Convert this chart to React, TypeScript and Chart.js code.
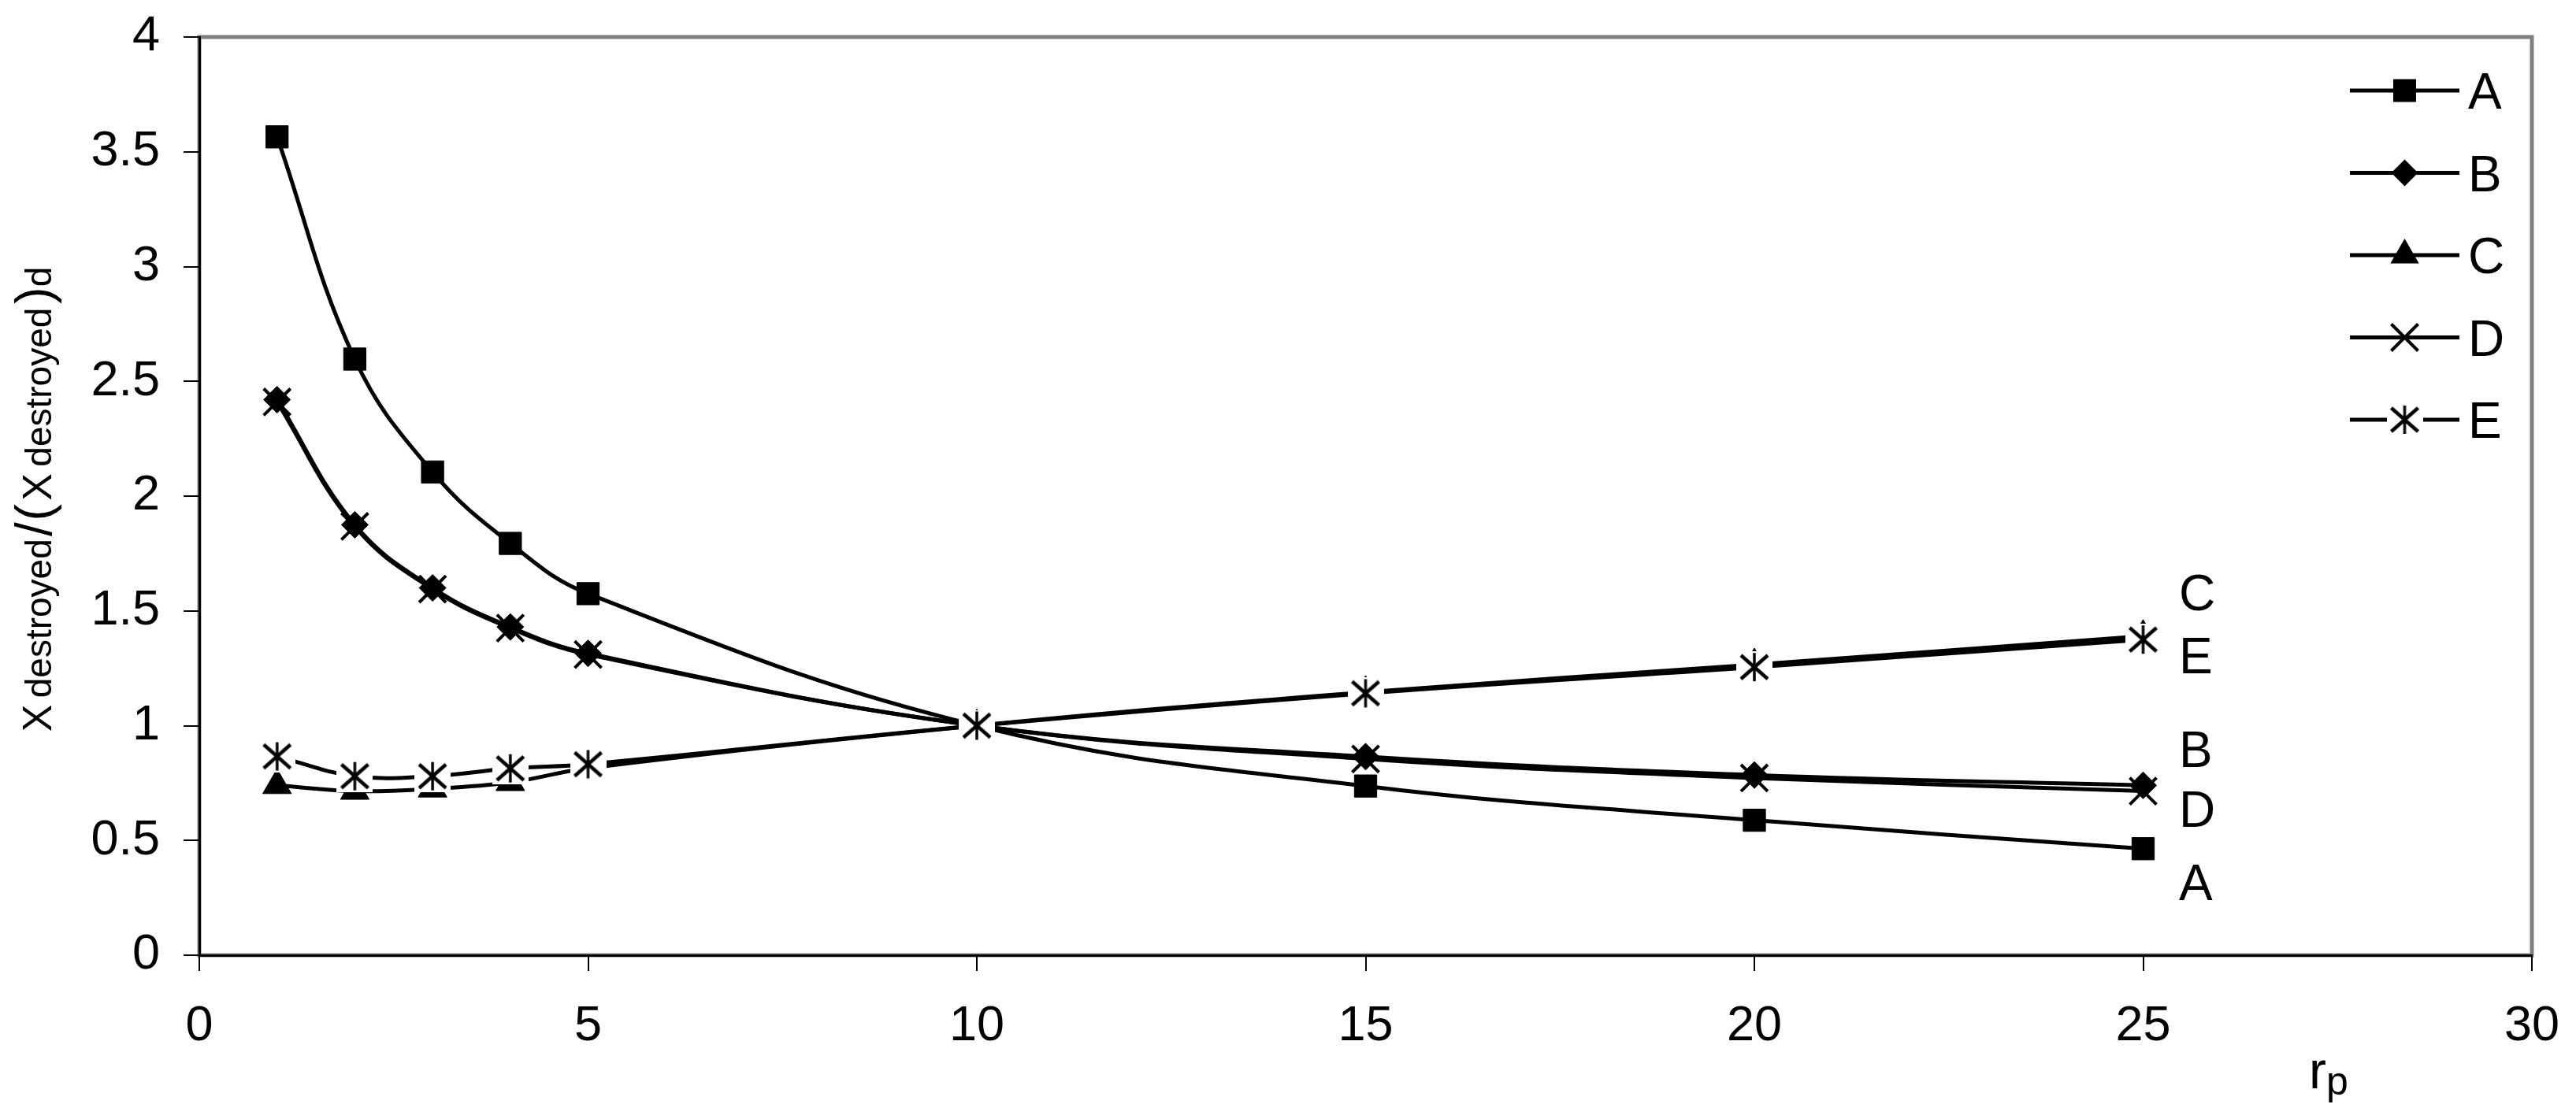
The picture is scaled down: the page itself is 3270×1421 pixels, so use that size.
import React, { useEffect, useRef } from 'react';
import { Chart, registerables } from 'chart.js';

Chart.register(...registerables);

// ---- data ----
const rpValues = [1, 2, 3, 4, 5, 10, 15, 20, 25];
const seriesA = [3.565, 2.597, 2.105, 1.794, 1.575, 1.0, 0.737, 0.588, 0.464];
const seriesB = [2.42, 1.875, 1.6, 1.43, 1.315, 1.0, 0.865, 0.785, 0.74];
const seriesC = [0.74, 0.715, 0.725, 0.753, 0.815, 1.0, 1.146, 1.266, 1.39];
const seriesD = [2.41, 1.868, 1.595, 1.425, 1.31, 1.0, 0.855, 0.772, 0.715];
const seriesE = [0.866, 0.78, 0.78, 0.814, 0.832, 1.0, 1.141, 1.255, 1.375];
const seriesNames = ['A', 'B', 'C', 'D', 'E'];
const xTickRange = [0, 30, 5];
const yTickRange = [0, 4, 0.5];
// curve-end annotations (text, anchor in data units)
const endLabelText = ['C', 'E', 'B', 'D', 'A'];
const endLabelY = [1.581, 1.307, 0.899, 0.638, 0.319];
const endLabelX = 25.46;
const yTitleParts = ['X', ' ', 'destroyed', ' ', '/', ' ', '(', ' ', 'X', ' ', 'destroyed', ' ', ')', 'd'];
const yTitleSizes = [52, 30, 46, 12, 64, 6, 64, 16, 52, 30, 46, 18, 64, 46];

const FONT = '"Liberation Sans", Arial, sans-serif';
const W = 3270;
const H = 1421;

function makeAsterisk(): HTMLCanvasElement {
  const c = document.createElement('canvas');
  c.width = 46;
  c.height = 40;
  const g = c.getContext('2d')!;
  g.fillStyle = '#ffffff';
  g.fillRect(0, 0, 46, 40);
  g.strokeStyle = '#000000';
  g.lineWidth = 4.5;
  const cx = 23, cy = 20;
  g.beginPath();
  g.moveTo(cx - 17, cy - 15); g.lineTo(cx + 17, cy + 15);
  g.moveTo(cx + 17, cy - 15); g.lineTo(cx - 17, cy + 15);
  g.stroke();
  g.lineWidth = 3.5;
  g.beginPath();
  g.moveTo(cx, cy - 18); g.lineTo(cx, cy + 18);
  g.stroke();
  return c;
}

function drawMarker(ctx: CanvasRenderingContext2D, style: any, x: number, y: number) {
  ctx.save();
  ctx.fillStyle = '#000';
  ctx.strokeStyle = '#000';
  if (style === 'rect') {
    ctx.fillRect(x - 14.5, y - 14.5, 29, 29);
  } else if (style === 'rectRot') {
    const r = 17;
    ctx.beginPath();
    ctx.moveTo(x - r, y); ctx.lineTo(x, y - r); ctx.lineTo(x + r, y); ctx.lineTo(x, y + r);
    ctx.closePath(); ctx.fill();
  } else if (style === 'triangle') {
    const r = 21;
    ctx.beginPath();
    ctx.moveTo(x, y - r);
    ctx.lineTo(x + r * Math.sin(2 * Math.PI / 3), y - r * Math.cos(2 * Math.PI / 3));
    ctx.lineTo(x + r * Math.sin(4 * Math.PI / 3), y - r * Math.cos(4 * Math.PI / 3));
    ctx.closePath(); ctx.fill();
  } else if (style === 'crossRot') {
    const d = 17;
    ctx.lineWidth = 4;
    ctx.beginPath();
    ctx.moveTo(x - d, y - d); ctx.lineTo(x + d, y + d);
    ctx.moveTo(x + d, y - d); ctx.lineTo(x - d, y + d);
    ctx.stroke();
  } else if (style instanceof HTMLCanvasElement) {
    ctx.drawImage(style, x - style.width / 2, y - style.height / 2);
  }
  ctx.restore();
}

export default function App() {
  const ref = useRef<HTMLCanvasElement>(null);

  useEffect(() => {
    const canvas = ref.current!;
    const asterisk = makeAsterisk();
    const styles: any[] = ['rect', 'rectRot', 'triangle', 'crossRot', asterisk];
    const radii = [20, 17, 21, 24, 20];
    const borderW = [1, 1, 1, 4, 1];
    const allSeries = [seriesA, seriesB, seriesC, seriesD, seriesE];

    const decor = {
      id: 'decor',
      beforeDraw(chart: any) {
        const { ctx, chartArea: a } = chart;
        ctx.save();
        ctx.fillStyle = '#fff';
        ctx.fillRect(0, 0, W, H);
        ctx.strokeStyle = '#808080';
        ctx.lineWidth = 5;
        ctx.strokeRect(a.left, a.top, a.right - a.left, a.bottom - a.top);
        ctx.restore();
      },
      afterDraw(chart: any) {
        const { ctx, scales } = chart;
        ctx.save();
        ctx.fillStyle = '#000';
        ctx.textBaseline = 'alphabetic';
        ctx.textAlign = 'left';
        // legend
        const legTop = 115, legStep = 104.5;
        seriesNames.forEach((name, i) => {
          const y = legTop + i * legStep;
          ctx.strokeStyle = '#000';
          ctx.lineWidth = 5;
          ctx.beginPath();
          ctx.moveTo(2983, y); ctx.lineTo(3122, y);
          ctx.stroke();
          drawMarker(ctx, styles[i], 3052.5, y);
          ctx.fillStyle = '#000';
          ctx.font = `64px ${FONT}`;
          ctx.fillText(name, 3133, y + 23);
        });
        // curve-end labels
        ctx.font = `64px ${FONT}`;
        endLabelText.forEach((t, i) => {
          const px = scales.x.getPixelForValue(endLabelX);
          const py = scales.y.getPixelForValue(endLabelY[i]);
          ctx.fillText(t, px, py + 23);
        });
        // y axis title (rotated, mixed sizes)
        let total = 0;
        const widths: number[] = [];
        yTitleParts.forEach((p, i) => {
          ctx.font = `${yTitleSizes[i]}px ${FONT}`;
          const w = ctx.measureText(p).width;
          widths.push(w);
          total += w;
        });
        const cy = 634;
        ctx.translate(65, cy + total / 2);
        ctx.rotate(-Math.PI / 2);
        let x = 0;
        yTitleParts.forEach((p, i) => {
          ctx.font = `${yTitleSizes[i]}px ${FONT}`;
          ctx.fillText(p, x, 0);
          x += widths[i];
        });
        ctx.setTransform(1, 0, 0, 1, 0, 0);
        // x axis title r_p
        ctx.font = `66px ${FONT}`;
        ctx.fillText('r', 2931, 1382);
        const rw = ctx.measureText('r').width;
        ctx.font = `50px ${FONT}`;
        ctx.fillText('p', 2931 + rw, 1390);
        ctx.restore();
      },
    };

    const zeroPad = (s: any) => {
      s.paddingTop = 0;
      s.paddingBottom = 0;
      s.paddingLeft = 0;
      s.paddingRight = 0;
    };

    const chart = new Chart(canvas, {
      type: 'line',
      data: {
        datasets: seriesNames.map((name, i) => ({
          label: name,
          data: rpValues.map((x, j) => ({ x, y: allSeries[i][j] })),
          borderColor: '#000',
          backgroundColor: '#000',
          borderWidth: 5,
          pointStyle: styles[i],
          pointRadius: radii[i],
          pointHoverRadius: radii[i],
          pointBorderWidth: borderW[i],
          pointBackgroundColor: '#000',
          pointBorderColor: '#000',
          tension: 0.4,
          fill: false,
          order: 5 - i,
        })),
      },
      options: {
        responsive: false,
        animation: false,
        devicePixelRatio: 1,
        events: [],
        layout: { padding: { left: 0, top: 47, right: 56, bottom: 0 } },
        plugins: {
          legend: { display: false },
          tooltip: { enabled: false },
          title: { display: false },
        },
        scales: {
          x: {
            type: 'linear',
            min: xTickRange[0],
            max: xTickRange[1],
            ticks: {
              stepSize: xTickRange[2],
              autoSkip: false,
              maxRotation: 0,
              color: '#000',
              padding: 33,
              font: { family: FONT, size: 63 },
              callback: (v: any) => String(v),
            },
            grid: { drawOnChartArea: false, drawTicks: true, tickLength: 20, color: '#000', lineWidth: 2 },
            border: { display: true, color: '#000', width: 3 },
            afterFit: (s: any) => { s.height = H - 1213; zeroPad(s); },
          },
          y: {
            type: 'linear',
            min: yTickRange[0],
            max: yTickRange[1],
            ticks: {
              stepSize: yTickRange[2],
              autoSkip: false,
              color: '#000',
              padding: 30,
              font: { family: FONT, size: 63 },
              callback: (v: any) => String(Math.round(Number(v) * 10) / 10),
            },
            grid: { drawOnChartArea: false, drawTicks: true, tickLength: 20, color: '#000', lineWidth: 2 },
            border: { display: true, color: '#000', width: 3 },
            afterFit: (s: any) => { s.width = 253; zeroPad(s); },
          },
        },
      },
      plugins: [decor],
    } as any);

    return () => chart.destroy();
  }, []);

  return (
    <div style={{ position: 'fixed', left: 0, top: 0, width: W, height: H, background: '#fff' }}>
      <canvas ref={ref} width={W} height={H} style={{ display: 'block', width: W, height: H }} />
    </div>
  );
}
